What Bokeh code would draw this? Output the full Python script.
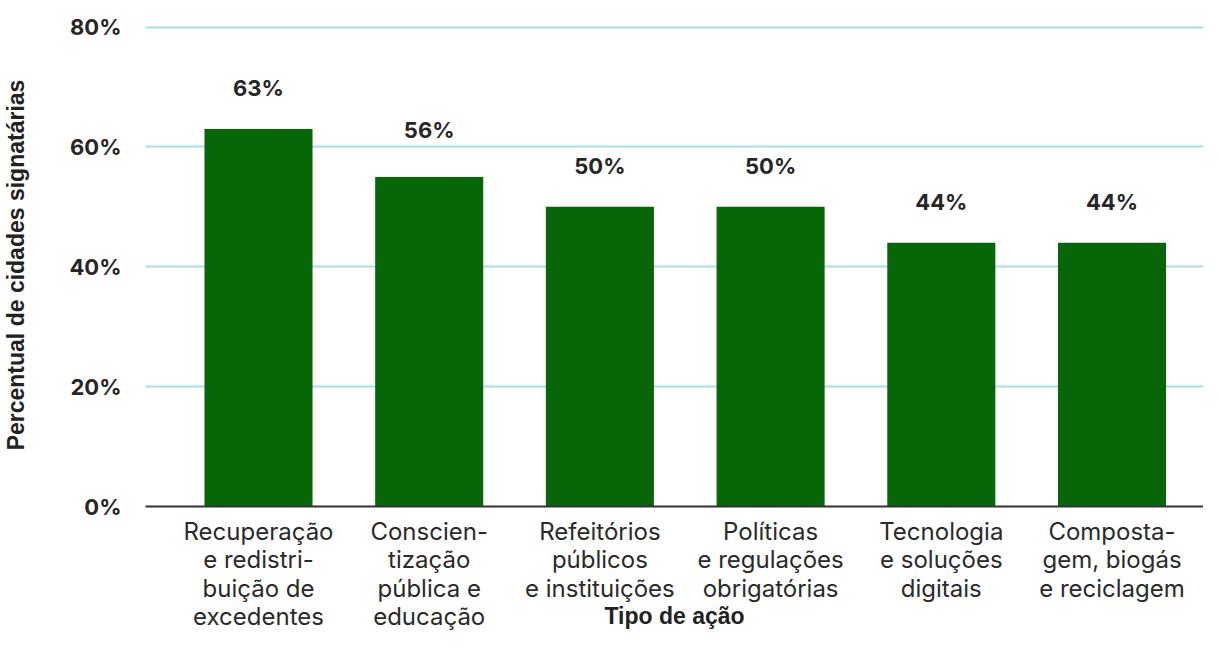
from bokeh.plotting import figure
from bokeh.models import ColumnDataSource, FixedTicker, Range1d
from bokeh.embed import file_html
from bokeh.resources import INLINE
from bokeh.core.properties import value

categories = [
    "Recuperação\ne redistri-\nbuição de\nexcedentes",
    "Conscien-\ntização\npública e\neducação",
    "Refeitórios\npúblicos\ne instituições",
    "Políticas\ne regulações\nobrigatórias",
    "Tecnologia\ne soluções\ndigitais",
    "Composta-\ngem, biogás\ne reciclagem",
]
bar_values = [63, 55, 50, 50, 44, 44]
label_values = [63, 56, 50, 50, 44, 44]
label_texts = ["63%", "56%", "50%", "50%", "44%", "44%"]
y_ticks = [0, 20, 40, 60, 80]
y_tick_labels = ["0%", "20%", "40%", "60%", "80%"]
x_title = "Tipo de ação"
y_title = "Percentual de cidades signatárias"

xs = list(range(len(categories)))
src = ColumnDataSource(dict(x=xs, top=bar_values, ly=label_values, lt=label_texts))

p = figure(width=1203, height=632, output_backend="svg", toolbar_location=None,
           x_range=Range1d(-0.662, 5.536), y_range=Range1d(0, 80.6))
p.min_border_left = 137
p.min_border_right = 0
p.min_border_top = 23
p.min_border_bottom = 126
p.outline_line_color = None
p.background_fill_color = "white"
p.border_fill_color = "white"

p.vbar(x="x", top="top", width=0.633, bottom=0, source=src,
       fill_color="#076607", line_color=None)
p.text(x="x", y="ly", text="lt", source=src, text_align="center", text_baseline="middle",
       y_offset=-41, text_font=value("Inter"), text_font_style="bold",
       text_font_size="22px", text_color="#262626")

# y axis
p.yaxis.ticker = FixedTicker(ticks=y_ticks)
p.yaxis.major_label_overrides = {t: l for t, l in zip(y_ticks, y_tick_labels)}
p.yaxis.axis_line_color = None
p.yaxis.major_tick_line_color = None
p.yaxis.minor_tick_line_color = None
p.yaxis.major_label_text_font = "Inter"
p.yaxis.major_label_text_font_style = "bold"
p.yaxis.major_label_text_font_size = "22px"
p.yaxis.major_label_text_color = "#262626"
p.yaxis.major_label_standoff = 18
p.yaxis.axis_label = y_title
p.yaxis.axis_label_text_font = "Liberation Sans"
p.yaxis.axis_label_text_font_style = "bold"
p.yaxis.axis_label_text_font_size = "23px"
p.yaxis.axis_label_text_color = "#222222"
p.yaxis.axis_label_standoff = 37

# x axis
p.xaxis.ticker = FixedTicker(ticks=xs)
p.xaxis.major_label_overrides = {i: c for i, c in zip(xs, categories)}
p.xaxis.axis_line_color = "#333333"
p.xaxis.axis_line_width = 2
p.xaxis.major_tick_line_color = None
p.xaxis.minor_tick_line_color = None
p.xaxis.major_label_text_font = "Inter"
p.xaxis.major_label_text_font_size = "24px"
p.xaxis.major_label_text_color = "#2a2a2a"
p.xaxis.major_label_text_line_height = 0.985
p.xaxis.major_label_standoff = 4
p.xaxis.axis_label = x_title
p.xaxis.axis_label_text_font = "Liberation Sans"
p.xaxis.axis_label_text_font_style = "bold"
p.xaxis.axis_label_text_font_size = "23px"
p.xaxis.axis_label_text_color = "#222222"
p.xaxis.axis_label_standoff = -31

p.xgrid.grid_line_color = None
p.ygrid.ticker = FixedTicker(ticks=y_ticks[1:])
p.ygrid.grid_line_color = "#a8dcec"
p.ygrid.grid_line_width = 2

open("out.html", "w").write(file_html(p, INLINE))
